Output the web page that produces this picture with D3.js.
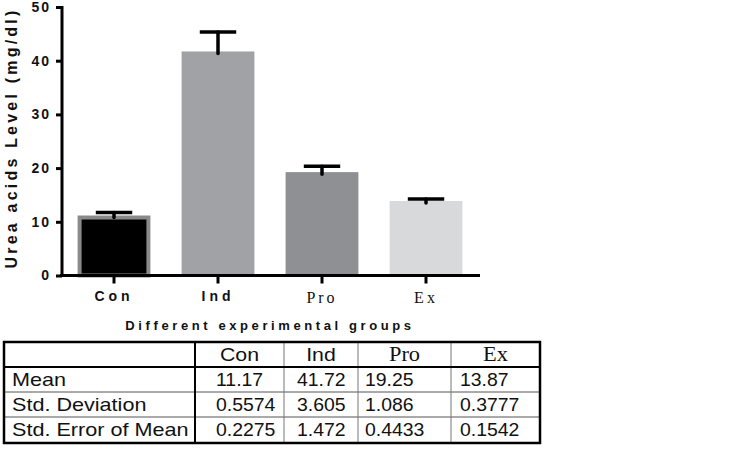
<!DOCTYPE html>
<html>
<head>
<meta charset="utf-8">
<script src="https://cdn.jsdelivr.net/npm/d3@7"></script>
<style>
  body { margin: 0; background: #fff; }
  svg { font-family: "Liberation Sans", Arial, sans-serif; }
</style>
</head>
<body>
<div id="chart-area"></div>
<script>
var groups = ["Con", "Ind", "Pro", "Ex"];
var means = [11.17, 41.72, 19.25, 13.87];
var sds = [0.5574, 3.605, 1.086, 0.3777];
var sems = [0.2275, 1.472, 0.4433, 0.1542];
var meanLabels = ["11.17", "41.72", "19.25", "13.87"];
var sdLabels = ["0.5574", "3.605", "1.086", "0.3777"];
var semLabels = ["0.2275", "1.472", "0.4433", "0.1542"];
var rowNames = ["Mean", "Std. Deviation", "Std. Error of Mean"];
var yTicks = [0, 10, 20, 30, 40, 50];

var fills = ["#000000", "#a1a2a6", "#8f9094", "#d8d9db"];
var serifGroups = ["Pro", "Ex"];
var SANS = "'Liberation Sans', Arial, sans-serif";
var SERIF = "'Liberation Serif', 'Times New Roman', serif";

var svgWidth = 756, svgHeight = 460;

var svg = d3.select("#chart-area")
            .append("svg")
            .attr("width", svgWidth)
            .attr("height", svgHeight);

var x = d3.scaleBand().domain(groups).range([62, 478])
          .paddingInner(0.3).paddingOuter(0.15);
var y = d3.scaleLinear().domain([0, 50]).range([275.5, 7]);

function isSerif(d) { return serifGroups.indexOf(d) >= 0; }

// bars
svg.selectAll("rect.bar")
   .data(groups)
   .enter().append("rect")
   .attr("class", "bar")
   .attr("x", function(d, i) { return i === 0 ? x(d) + 2 : x(d); })
   .attr("width", function(d, i) { return i === 0 ? x.bandwidth() - 4 : x.bandwidth(); })
   .attr("y", function(d, i) { return i === 0 ? y(means[i]) + 2 : y(means[i]); })
   .attr("height", function(d, i) { return y(0) - y(means[i]) - (i === 0 ? 2 : 0); })
   .attr("fill", function(d, i) { return fills[i]; })
   .attr("stroke", function(d, i) { return i === 0 ? "#8a8a8a" : "none"; })
   .attr("stroke-width", 4);

// error bars (mean + SD)
var err = svg.selectAll("g.err")
             .data(groups)
             .enter().append("g")
             .attr("class", "err");

err.append("line")
   .attr("x1", function(d) { return x(d) + x.bandwidth() / 2; })
   .attr("x2", function(d) { return x(d) + x.bandwidth() / 2; })
   .attr("y1", function(d, i) { return y(means[i]) + 2; })
   .attr("y2", function(d, i) { return y(means[i] + sds[i]); })
   .attr("stroke", "#000")
   .attr("stroke-width", 3.5)
   .attr("stroke-linecap", "round");

err.append("line")
   .attr("x1", function(d) { return x(d) + x.bandwidth() / 4; })
   .attr("x2", function(d) { return x(d) + x.bandwidth() * 3 / 4; })
   .attr("y1", function(d, i) { return y(means[i] + sds[i]); })
   .attr("y2", function(d, i) { return y(means[i] + sds[i]); })
   .attr("stroke", "#000")
   .attr("stroke-width", 3.5);

// y axis
var yAxis = svg.append("g")
               .attr("transform", "translate(62,0)")
               .call(d3.axisLeft(y).tickValues(yTicks).tickSize(6).tickPadding(5));
yAxis.select(".domain").attr("stroke-width", 3).attr("d", "M0," + (y(50) - 1) + "V" + y(0));
yAxis.selectAll(".tick line").attr("stroke-width", 3);
yAxis.selectAll(".tick text")
     .style("font-family", SANS)
     .style("font-size", "14px").style("font-weight", "bold")
     .style("letter-spacing", "2px").attr("fill", "#111");

// x axis
var xAxis = svg.append("g")
               .attr("transform", "translate(0," + y(0) + ")")
               .call(d3.axisBottom(x).tickSize(8).tickPadding(8));
xAxis.select(".domain").attr("stroke-width", 3).attr("d", "M60,0H480");
xAxis.selectAll(".tick line").attr("stroke-width", 3);
xAxis.selectAll(".tick text")
     .style("font-family", function(d) { return isSerif(d) ? SERIF : SANS; })
     .style("font-size", function(d) { return isSerif(d) ? "16px" : "14px"; })
     .style("font-weight", function(d) { return isSerif(d) ? "normal" : "bold"; })
     .style("letter-spacing", function(d) { return isSerif(d) ? "3px" : "4px"; })
     .attr("fill", "#111");

// axis titles
svg.append("text")
   .attr("transform", "translate(17,138) rotate(-90)")
   .attr("text-anchor", "middle")
   .style("font-size", "16px").style("font-weight", "bold")
   .style("letter-spacing", "3.2px").attr("fill", "#111")
   .text("Urea acids Level (mg/dl)");

svg.append("text")
   .attr("x", 270).attr("y", 330)
   .attr("text-anchor", "middle")
   .style("font-size", "13px").style("font-weight", "bold")
   .style("letter-spacing", "3.6px").attr("fill", "#111")
   .text("Different experimental groups");

// summary table
var colEdges = [4, 195, 284, 358, 451, 540];
var rowEdges = [342, 367, 392, 417, 443];
var numPad = [null, 21, 13, 7, 9];
var tableRows = [meanLabels, sdLabels, semLabels];

var t = svg.append("g");

// thin inner lines
rowEdges.slice(2, 4).forEach(function(ry) {
  t.append("line").attr("x1", 4).attr("x2", 540).attr("y1", ry).attr("y2", ry)
   .attr("stroke", "#555").attr("stroke-width", 1);
});
colEdges.slice(2, 5).forEach(function(cx) {
  t.append("line").attr("x1", cx).attr("x2", cx).attr("y1", 342).attr("y2", 443)
   .attr("stroke", "#777").attr("stroke-width", 1);
});
// thick lines
t.append("line").attr("x1", 4).attr("x2", 540).attr("y1", rowEdges[1]).attr("y2", rowEdges[1])
 .attr("stroke", "#000").attr("stroke-width", 2);
t.append("line").attr("x1", colEdges[1]).attr("x2", colEdges[1]).attr("y1", 342).attr("y2", 443)
 .attr("stroke", "#000").attr("stroke-width", 2);
t.append("rect").attr("x", 4).attr("y", 342).attr("width", 536).attr("height", 101)
 .attr("fill", "none").attr("stroke", "#000").attr("stroke-width", 2.5);

// header
groups.forEach(function(g, i) {
  t.append("text")
   .attr("transform", "translate(" + (colEdges[i + 1] + colEdges[i + 2]) / 2 + "," +
         (rowEdges[0] + 19) + ") scale(1.12,1)")
   .attr("text-anchor", "middle")
   .style("font-family", isSerif(g) ? SERIF : SANS)
   .style("font-size", isSerif(g) ? "20px" : "19px")
   .attr("fill", "#111")
   .text(g);
});

// rows
tableRows.forEach(function(vals, r) {
  t.append("text")
   .attr("transform", "translate(12," + (rowEdges[r + 1] + 19) + ") scale(1.2,1)")
   .style("font-size", "18px").attr("fill", "#111")
   .text(rowNames[r]);
  vals.forEach(function(v, i) {
    t.append("text")
     .attr("transform", "translate(" + (colEdges[i + 1] + numPad[i + 1]) + "," +
           (rowEdges[r + 1] + 19) + ") scale(1.08,1)")
     .style("font-size", "18px").attr("fill", "#111")
     .text(v);
  });
});
</script>
</body>
</html>
